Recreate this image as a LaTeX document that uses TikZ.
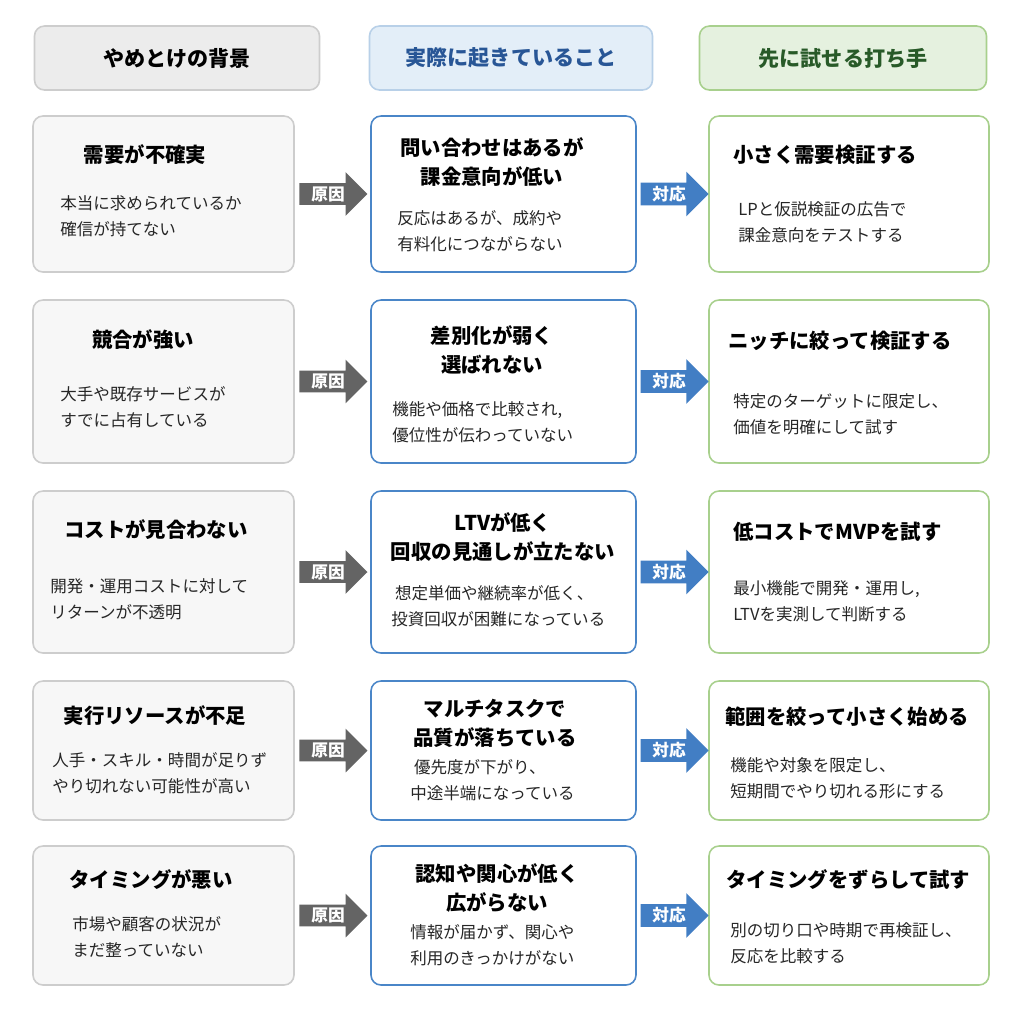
\documentclass[tikz,border=0pt]{standalone}
\usepackage{fontspec}
\setmainfont{Noto Sans CJK JP}
\usetikzlibrary{positioning,shapes.arrows}
\definecolor{bgGray}{RGB}{247,247,247}
\definecolor{lnGray}{RGB}{205,205,205}
\definecolor{hdGray}{RGB}{236,236,236}
\definecolor{lnBlue}{RGB}{74,134,200}
\definecolor{hdBlue}{RGB}{227,238,248}
\definecolor{hdBlueLn}{RGB}{184,208,232}
\definecolor{txBlue}{RGB}{40,86,150}
\definecolor{lnGreen}{RGB}{168,208,141}
\definecolor{hdGreen}{RGB}{229,241,223}
\definecolor{txGreen}{RGB}{40,90,40}
\definecolor{arGray}{RGB}{100,100,100}
\definecolor{arBlue}{RGB}{66,126,196}
\tikzset{
  box/.style={draw, rounded corners=2mm, line width=0.9pt},
  causebox/.style={box, draw=lnGray, fill=bgGray},
  factbox/.style={box, draw=lnBlue, fill=white},
  actbox/.style={box, draw=lnGreen, fill=white},
  head/.style={box, draw=lnGray, fill=hdGray, font=\fontsize{12}{14}\selectfont\bfseries},
  ttl/.style={font=\fontsize{11.6}{16.5}\selectfont\bfseries, align=center, inner sep=0},
  bdy/.style={font=\fontsize{9.4}{15}\selectfont, align=left, anchor=west, inner sep=0, text=black!85},
  arw/.style={single arrow, single arrow head extend=2.2mm, minimum height=13.6mm, minimum width=8.2mm,
    inner sep=0.6mm, text=white, font=\fontsize{9.5}{11}\selectfont\bfseries},
  cause/.style={arw, fill=arGray},
  resp/.style={arw, fill=arBlue}
}
\begin{document}
\begin{tikzpicture}[x=0.2mm,y=-0.2mm]
  \useasboundingbox[fill=white] (0,0) rectangle (1024,1024);

  % column headers
  \node[head, minimum width=57mm, minimum height=12.8mm] (hCause) at (177,58) {やめとけの背景};
  \node[head, draw=hdBlueLn, fill=hdBlue, text=txBlue, minimum width=56.6mm, minimum height=12.8mm] (hFact) at (511,58) {実際に起きていること};
  \node[head, draw=lnGreen, fill=hdGreen, text=txGreen, minimum width=57.4mm, minimum height=12.8mm] (hAct) at (843,58) {先に試せる打ち手};

  % row 1
  \node[causebox, minimum width=52.2mm, minimum height=31.2mm] (c1) at (163.5,194) {};
  \node[factbox, minimum width=53mm, minimum height=31.2mm] (f1) at (503.5,194) {};
  \node[actbox, minimum width=56mm, minimum height=31.2mm] (a1) at (849,194) {};
  \node[ttl] (c1t) at (145,155) {需要が不確実};
  \node[bdy] (c1b) at (60,216) {本当に求められているか\\確信が持てない};
  \node[ttl] (f1t) at (492,162) {問い合わせはあるが\\課金意向が低い};
  \node[bdy] (f1b) at (397,231) {反応はあるが、成約や\\有料化につながらない};
  \node[ttl, anchor=west] (a1t) at (733,155) {小さく需要検証する};
  \node[bdy] (a1b) at (738,222) {LPと仮説検証の広告で\\課金意向をテストする};
  \node[cause] (x1) at (328,194) {原因};
  \node[resp] (y1) at (669,194) {対応};

  % row 2
  \node[causebox, minimum width=52.2mm, minimum height=32.6mm] (c2) at (163.5,381.5) {};
  \node[factbox, minimum width=53mm, minimum height=32.6mm] (f2) at (503.5,381.5) {};
  \node[actbox, minimum width=56mm, minimum height=32.6mm] (a2) at (849,381.5) {};
  \node[ttl] (c2t) at (143,340) {競合が強い};
  \node[bdy] (c2b) at (60,407) {大手や既存サービスが\\すでに占有している};
  \node[ttl] (f2t) at (492,350) {差別化が弱く\\選ばれない};
  \node[bdy] (f2b) at (392,422) {機能や価格で比較され,\\優位性が伝わっていない};
  \node[ttl, anchor=west] (a2t) at (728,341) {ニッチに絞って検証する};
  \node[bdy] (a2b) at (733,414) {特定のターゲットに限定し、\\価値を明確にして試す};
  \node[cause] (x2) at (328,381.5) {原因};
  \node[resp] (y2) at (669,381.5) {対応};

  % row 3
  \node[causebox, minimum width=52.2mm, minimum height=32.4mm] (c3) at (163.5,572) {};
  \node[factbox, minimum width=53mm, minimum height=32.4mm] (f3) at (503.5,572) {};
  \node[actbox, minimum width=56mm, minimum height=32.4mm] (a3) at (849,572) {};
  \node[ttl] (c3t) at (156,530) {コストが見合わない};
  \node[bdy] (c3b) at (50,599) {開発・運用コストに対して\\リターンが不透明};
  \node[ttl] (f3t) at (503,537) {LTVが低く\\回収の見通しが立たない};
  \node[bdy] (f3b) at (391,606) {\ 想定単価や継続率が低く、\\投資回収が困難になっている};
  \node[ttl, anchor=west] (a3t) at (733,532) {低コストでMVPを試す};
  \node[bdy] (a3b) at (733,601) {最小機能で開発・運用し,\\LTVを実測して判断する};
  \node[cause] (x3) at (328,572) {原因};
  \node[resp] (y3) at (669,572) {対応};

  % row 4
  \node[causebox, minimum width=52.2mm, minimum height=27.8mm] (c4) at (163.5,750.5) {};
  \node[factbox, minimum width=53mm, minimum height=27.8mm] (f4) at (503.5,750.5) {};
  \node[actbox, minimum width=56mm, minimum height=27.8mm] (a4) at (849,750.5) {};
  \node[ttl] (c4t) at (155,716) {実行リソースが不足};
  \node[bdy] (c4b) at (52,773) {人手・スキル・時間が足りず\\やり切れない可能性が高い};
  \node[ttl] (f4t) at (495,723) {マルチタスクで\\品質が落ちている};
  \node[bdy] (f4b) at (410,780) {\ 優先度が下がり、\\中途半端になっている};
  \node[ttl, anchor=west] (a4t) at (725,717) {範囲を絞って小さく始める};
  \node[bdy] (a4b) at (730,778) {機能や対象を限定し、\\短期間でやり切れる形にする};
  \node[cause] (x4) at (328,750.5) {原因};
  \node[resp] (y4) at (669,750.5) {対応};

  % row 5
  \node[causebox, minimum width=52.2mm, minimum height=27.8mm] (c5) at (163.5,915.5) {};
  \node[factbox, minimum width=53mm, minimum height=27.8mm] (f5) at (503.5,915.5) {};
  \node[actbox, minimum width=56mm, minimum height=27.8mm] (a5) at (849,915.5) {};
  \node[ttl] (c5t) at (151,880) {タイミングが悪い};
  \node[bdy] (c5b) at (72,937) {市場や顧客の状況が\\まだ整っていない};
  \node[ttl] (f5t) at (497,888) {認知や関心が低く\\広がらない};
  \node[bdy] (f5b) at (410,945) {情報が届かず、関心や\\利用のきっかけがない};
  \node[ttl, anchor=west] (a5t) at (726,880) {タイミングをずらして試す};
  \node[bdy] (a5b) at (730,943) {別の切り口や時期で再検証し、\\反応を比較する};
  \node[cause] (x5) at (328,915.5) {原因};
  \node[resp] (y5) at (669,915.5) {対応};
\end{tikzpicture}
\end{document}
